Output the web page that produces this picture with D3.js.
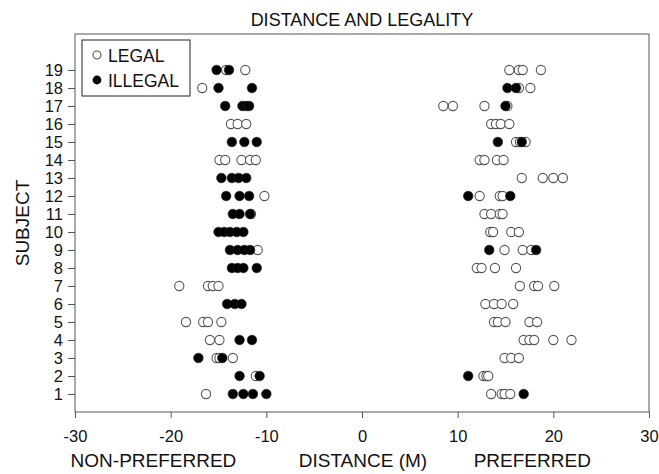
<!DOCTYPE html>
<html>
<head>
<meta charset="utf-8">
<script src="https://cdn.jsdelivr.net/npm/d3@7"></script>
<style>
  html, body { margin: 0; padding: 0; background: #fff; }
  svg { display: block; font-family: "Liberation Sans", Arial, sans-serif; }
</style>
</head>
<body>
<div id="chart"></div>
<script>
// Distance and legality – dot plot per subject

const subjects = d3.range(1, 20);
const xTicks = [-30, -20, -10, 0, 10, 20, 30];

// distances per subject (index 0 = subject 1), negative = non-preferred side
const legal = [
    [-16.3, 13.5, 14.6, 14.9, 15.5],
    [-11.1, 12.7, 13.0, 13.2],
    [-15.2, -14.9, -13.5, 14.9, 15.6, 16.4],
    [-15.9, -14.9, 16.9, 17.5, 18.0, 20.0, 21.9],
    [-18.4, -16.6, -16.1, -14.7, 13.8, 14.2, 15.0, 17.5, 18.3],
    [12.9, 13.8, 14.6, 15.8],
    [-19.1, -16.1, -15.6, -15.0, 16.5, 18.0, 18.4, 20.1],
    [12.0, 12.5, 13.9, 16.1],
    [-10.9, 14.9, 16.8, 17.7],
    [13.4, 13.7, 15.6, 16.4],
    [-11.6, 12.8, 13.5, 14.4, 14.7],
    [-10.2, 12.3, 14.4, 14.7],
    [16.7, 18.9, 20.0, 21.0],
    [-14.9, -14.3, -12.6, -11.7, -11.1, 12.3, 12.8, 14.1, 14.8],
    [16.1, 16.5, 17.1],
    [-13.7, -13.0, -12.1, 13.5, 14.0, 14.5, 15.4],
    [8.5, 9.5, 12.8, 15.2],
    [-16.7, 16.4, 17.6],
    [-14.2, -12.2, 15.4, 16.4, 16.8, 18.7]
];
const illegal = [
    [-13.5, -12.4, -11.4, -10.0, 16.9],
    [-12.8, -10.7, 11.1],
    [-17.1, -14.6],
    [-12.8, -11.5],
    [],
    [-14.1, -13.3, -12.6],
    [],
    [-13.6, -13.0, -12.4, -11.0],
    [-13.8, -13.0, -12.3, -11.7, 13.3, 18.2],
    [-15.0, -14.4, -13.8, -13.1, -12.4],
    [-13.5, -12.8, -11.7],
    [-14.2, -12.8, -11.8, 11.1, 15.5],
    [-14.7, -13.6, -12.9, -12.1],
    [],
    [-13.6, -12.3, -11.0, 14.2, 16.7],
    [],
    [-14.3, -12.5, -12.1, -11.8, 15.0],
    [-15.0, -11.5, 15.2, 16.1],
    [-15.2, -13.9]
];

const width = 659, height = 474;
const margin = { top: 34, right: 10, bottom: 62, left: 75 };

const svg = d3.select('#chart').append('svg')
    .attr('width', width)
    .attr('height', height);

const x = d3.scaleLinear().domain([-30, 30]).range([margin.left, width - margin.right]);
const y = d3.scaleLinear().domain([0, 21]).range([height - margin.bottom, margin.top]);

// frame
svg.append('rect')
    .attr('x', x(-30)).attr('y', y(21))
    .attr('width', x(30) - x(-30)).attr('height', y(0) - y(21))
    .attr('fill', 'none').attr('stroke', '#555').attr('stroke-width', 1);

// axes (hyphen minus like the original)
const xAxis = svg.append('g')
    .attr('transform', `translate(0,${y(0)})`)
    .call(d3.axisBottom(x).tickValues(xTicks).tickSize(6).tickPadding(12).tickFormat(d => String(d)));
xAxis.select('.domain').remove();

const yAxis = svg.append('g')
    .attr('transform', `translate(${x(-30)},0)`)
    .call(d3.axisLeft(y).tickValues(subjects).tickSize(7).tickPadding(5));
yAxis.select('.domain').remove();

svg.selectAll('.tick line').attr('stroke', '#555');
svg.selectAll('.tick text')
    .attr('fill', '#111')
    .attr('font-family', '"Liberation Sans", Arial, sans-serif');
xAxis.selectAll('.tick text').attr('font-size', '16.5px');
yAxis.selectAll('.tick text').attr('font-size', '16.5px');

// flatten points
const toPoints = (rows) => rows.flatMap((vals, i) => vals.map(v => ({ subject: subjects[i], value: v })));
const legalPts = toPoints(legal);
const illegalPts = toPoints(illegal);

svg.append('g')
    .selectAll('circle')
    .data(legalPts)
    .join('circle')
    .attr('cx', d => x(d.value))
    .attr('cy', d => y(d.subject))
    .attr('r', 4.6)
    .attr('fill', '#fff')
    .attr('stroke', '#555')
    .attr('stroke-width', 1.1);

svg.append('g')
    .selectAll('circle')
    .data(illegalPts)
    .join('circle')
    .attr('cx', d => x(d.value))
    .attr('cy', d => y(d.subject))
    .attr('r', 4.8)
    .attr('fill', '#000')
    .attr('stroke', '#222')
    .attr('stroke-width', 0.6);

// legend
const legend = svg.append('g').attr('transform', 'translate(82,40)');
legend.append('rect')
    .attr('width', 108).attr('height', 56)
    .attr('fill', '#fff').attr('stroke', '#222').attr('stroke-width', 1);
legend.append('circle').attr('cx', 15).attr('cy', 15).attr('r', 4)
    .attr('fill', '#fff').attr('stroke', '#555').attr('stroke-width', 1.1);
legend.append('circle').attr('cx', 15).attr('cy', 40).attr('r', 4.4)
    .attr('fill', '#000');
legend.append('text').attr('x', 26).attr('y', 22).attr('font-size', '17.5px').attr('fill', '#111').text('LEGAL');
legend.append('text').attr('x', 26).attr('y', 47).attr('font-size', '17.5px').attr('fill', '#111').text('ILLEGAL');

// titles
svg.append('text')
    .attr('x', x(0)).attr('y', 26)
    .attr('text-anchor', 'middle')
    .attr('font-size', '18px').attr('fill', '#111')
    .text('DISTANCE AND LEGALITY');

svg.append('text')
    .attr('transform', `translate(29,${(y(0) + y(21)) / 2}) rotate(-90)`)
    .attr('text-anchor', 'middle')
    .attr('font-size', '19px').attr('fill', '#111')
    .text('SUBJECT');

const xLabels = [
    { text: 'NON-PREFERRED', at: -21.8 },
    { text: 'DISTANCE (M)', at: 0.1 },
    { text: 'PREFERRED', at: 17.8 }
];
svg.append('g')
    .selectAll('text')
    .data(xLabels)
    .join('text')
    .attr('x', d => x(d.at))
    .attr('y', 467)
    .attr('text-anchor', 'middle')
    .attr('font-size', '19px').attr('fill', '#111')
    .text(d => d.text);
</script>
</body>
</html>
